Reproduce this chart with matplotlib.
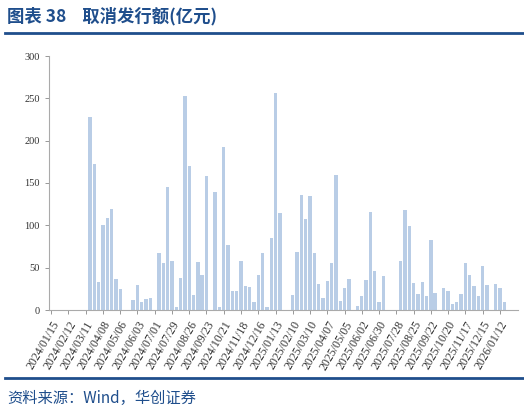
import matplotlib
matplotlib.use("Agg")
import matplotlib.pyplot as plt
import numpy as np
from matplotlib.lines import Line2D

values = [0,0,0,0,0,0,0,0,0,228,173,33,100,109,119,37,25,0,0,12,29,10,13,14,0,
          67,56,145,58,4,38,253,170,18,57,41,158,0,139,3,192,77,22,23,58,28,27,10,41,67,3,85,256,114,
          0,0,18,68,136,107,135,67,31,14,34,56,160,11,26,37,0,5,17,36,116,46,10,40,
          0,0,0,58,118,99,32,19,33,16,83,20,0,26,22,7,10,19,55,41,28,17,52,30,0,31,26,10]
tick_labels = ["2024/01/15","2024/02/12","2024/03/11","2024/04/08","2024/05/06","2024/06/03",
               "2024/07/01","2024/07/29","2024/08/26","2024/09/23","2024/10/21","2024/11/18",
               "2024/12/16","2025/01/13","2025/02/10","2025/03/10","2025/04/07","2025/05/05",
               "2025/06/02","2025/06/30","2025/07/28","2025/08/25","2025/09/22","2025/10/20",
               "2025/11/17","2025/12/15","2026/01/12"]
title = "图表 38    取消发行额(亿元)"
source = "资料来源：Wind，华创证券"

blue = "#1f4e8c"
W, H = 524, 413
fig = plt.figure(figsize=(W/100, H/100), dpi=100)
ax = fig.add_axes([49/W, 1-310/H, (518-49)/W, (310-56)/H])
x = np.arange(len(values))
ax.bar(x, values, width=0.78, color="#b9cde6")
ax.set_xlim(-0.5, 108.2)
ax.set_ylim(0, 300)
ax.set_yticks(range(0, 301, 50))
ax.set_xticks(np.arange(0, 4*len(tick_labels), 4))
ax.set_xticklabels(tick_labels, rotation=60, ha="right", rotation_mode="anchor",
                   fontsize=8.5, family="Liberation Serif", color="#333333")
for lab in ax.get_yticklabels():
    lab.set_fontsize(7.5); lab.set_family("Liberation Serif"); lab.set_color("#333333")
for s in ["top", "right"]:
    ax.spines[s].set_visible(False)
for s in ["left", "bottom"]:
    ax.spines[s].set_color("#aaaaaa")
ax.tick_params(axis="both", colors="#888888", length=3, width=0.6, labelcolor="#333333")

fig.text(7/W, 1-16/H, title, fontsize=12.5, fontweight="bold", color=blue,
         family=["Noto Sans CJK SC", "DejaVu Sans"], va="center")
fig.add_artist(Line2D([5/W, 1], [1-33/H, 1-33/H], color=blue, lw=2))
fig.add_artist(Line2D([5/W, 1], [1-378/H, 1-378/H], color=blue, lw=2))
fig.text(7/W, 1-398/H, source, fontsize=11, style="italic", color=blue,
         family=["Noto Sans CJK SC", "DejaVu Sans"], va="center")
fig.savefig("out.png", dpi=100)
